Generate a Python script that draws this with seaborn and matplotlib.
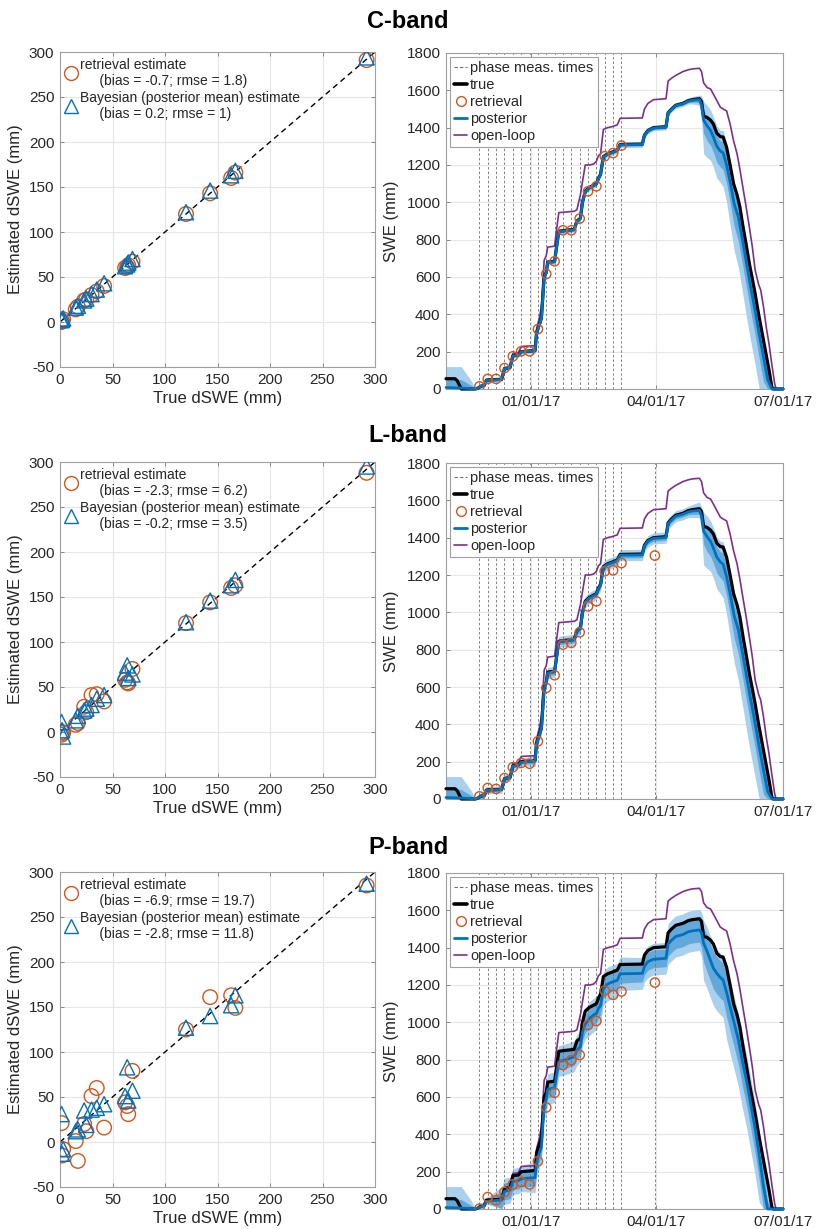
import numpy as np
import pandas as pd
import matplotlib
matplotlib.use("Agg")
import matplotlib.pyplot as plt
import matplotlib.dates as mdates
from matplotlib.lines import Line2D
import seaborn as sns

sns.set_theme(style="whitegrid")
plt.rcParams["font.family"] = ["Liberation Sans", "DejaVu Sans"]
plt.rcParams["axes.unicode_minus"] = False

# ---------------------------------------------------------------- colours
BLUE = "#0072BD"
ORANGE = "#D95319"
PURPLE = "#7E2F8E"
BAND_OUT = "#a9d0ec"
BAND_IN = "#62a8da"
GRID = "#e6e6e6"
EDGE = "#a0a0a0"
TXT = "#262626"
VLINE = "#707070"

season_start = pd.Timestamp("2016-11-01")
band_titles = ["C-band", "L-band", "P-band"]

# ---------------------------------------------------------------- dSWE scatter data (mm)
true_dswe = [1.5, 2, 3, 15, 17, 23, 25, 30, 35, 42, 62, 64, 65, 69, 120, 143, 163, 167, 292]
c_ret_dswe = [0, 1, 3, 14, 17, 24, 25, 30, 34, 40, 60, 61, 63, 67, 120, 143, 160, 166, 291]
c_bayes_dswe = [2, 3, 4, 16, 18, 24, 26, 31, 36, 43, 62, 64, 66, 70, 122, 146, 163, 168, 294]
l_ret_dswe = [-3, 0, -1, 8, 10, 28, 22, 41, 42, 34, 58, 55, 54, 70, 121, 144, 160, 163, 288]
l_bayes_dswe = [11, 2, -5, 13, 18, 24, 26, 30, 37, 41, 66, 74, 60, 64, 122, 146, 163, 169, 295]
p_ret_dswe = [21, -15, -8, 1, -21, 20, 12, 51, 60, 16, 44, 40, 31, 79, 125, 161, 163, 149, 285]
p_bayes_dswe = [31, -13, -8, 12, 14, 35, 19, 36, 38, 42, 51, 83, 46, 57, 127, 140, 152, 163, 287]

ret_stats = ["(bias = -0.7; rmse = 1.8)", "(bias = -2.3; rmse = 6.2)", "(bias = -6.9; rmse = 19.7)"]
bayes_stats = ["(bias = 0.2; rmse = 1)", "(bias = -0.2; rmse = 3.5)", "(bias = -2.8; rmse = 11.8)"]

# ---------------------------------------------------------------- phase measurement times (days after 1 Nov 2016)
c_meas_days = [24, 30, 36, 42, 48, 54, 60, 66, 72, 78, 84, 90, 96, 102, 108, 114, 120, 126]
lp_meas_days = [24, 30, 36, 42, 48, 54, 60, 66, 72, 78, 84, 90, 96, 102, 108, 114, 120, 126, 150]

# retrieved SWE at the measurement times (mm)
c_ret_swe = [14, 54, 54, 112, 175, 202, 202, 321, 616, 684, 850, 850, 913, 1059, 1086, 1247, 1264, 1304]
l_ret_swe = [14, 59, 54, 112, 170, 193, 189, 309, 595, 663, 827, 836, 893, 1032, 1059, 1220, 1225, 1264, 1304]
p_ret_swe = [2, 64, 47, 91, 132, 145, 132, 256, 544, 623, 771, 798, 825, 986, 1007, 1170, 1147, 1165, 1213]

# ---------------------------------------------------------------- true SWE (mm)
true_days = [0, 6.5, 8, 11, 21, 23, 25, 27.5, 29, 40,
             42, 46, 48, 52, 54, 64, 65, 67, 68.5, 70.5,
             72, 73, 78, 79, 81, 86, 92, 94, 96.5, 98,
             100, 103, 106, 108, 109.5, 111, 113, 116, 119, 123,
             125, 141, 142.5, 145, 149, 158, 159.5, 162, 165, 170,
             174, 177, 182, 183.5, 185, 187.5, 190, 192, 194.5, 197,
             199, 201.5, 204, 206.5, 209, 211, 213.5, 215, 218, 220,
             222, 224.5, 226, 228, 230, 232, 234, 235, 242]
true_swe = [55, 55, 45, 0, 0, 5, 15, 20, 48, 52,
            110, 115, 178, 182, 200, 206, 300, 345, 380, 600,
            625, 680, 684, 740, 845, 850, 855, 900, 915, 1000,
            1060, 1080, 1092, 1100, 1130, 1150, 1245, 1260, 1268, 1280,
            1310, 1312, 1360, 1385, 1400, 1405, 1480, 1500, 1520, 1530,
            1545, 1550, 1555, 1540, 1460, 1455, 1440, 1420, 1370, 1352,
            1350, 1295, 1200, 1100, 1040, 977, 860, 798, 665, 590,
            510, 400, 340, 260, 180, 100, 10, 0, 0]

# ---------------------------------------------------------------- open-loop SWE (mm)
ol_days = [0, 6.5, 8, 11, 21, 23, 25, 27.5, 29, 40,
           42, 46, 48, 52, 54, 64, 65, 67, 68.5, 70.5,
           72, 73, 78, 79, 81, 86, 92, 94, 96.5, 98,
           100, 103, 106, 108, 109.5, 111, 113, 116, 119, 123,
           125, 141, 142.5, 145, 149, 158, 159.5, 162, 165, 170,
           174, 177, 182, 183.5, 185, 187.5, 190, 192, 194.5, 197,
           199, 201.5, 204, 206.5, 209, 211, 213.5, 215, 218, 220,
           222, 224.5, 226, 228, 230, 232, 234, 236, 237, 242]
ol_swe = [55, 55, 45, 0, 0, 5, 15, 20, 48, 52,
          112, 117, 190, 195, 228, 232, 320, 380, 440, 690,
          715, 760, 765, 830, 945, 948, 952, 960, 1040, 1110,
          1200, 1200, 1205, 1220, 1250, 1260, 1390, 1400, 1405, 1415,
          1450, 1452, 1500, 1530, 1550, 1555, 1650, 1665, 1680, 1700,
          1710, 1715, 1718, 1700, 1640, 1615, 1607, 1580, 1545, 1510,
          1500, 1490, 1420, 1330, 1260, 1180, 1066, 1000, 860, 760,
          637, 560, 530, 440, 330, 240, 130, 30, 0, 0]

# ---------------------------------------------------------------- posterior (mean and spread below / above it, mm)
post_days = [0, 11, 18.5, 21, 23, 25, 27.5, 29, 40, 42,
             46, 48, 52, 54, 64, 65, 67, 68.5, 70.5, 72,
             73, 78, 79, 81, 86, 92, 94, 96.5, 98, 100,
             103, 106, 108, 109.5, 111, 113, 116, 119, 123, 125,
             141, 142.5, 145, 149, 158, 159.5, 162, 165, 170, 174,
             177, 182, 183.5, 185, 187.5, 190, 192, 194.5, 197, 199,
             201.5, 204, 207, 210, 213, 216, 219, 222, 225, 228,
             231, 234, 237, 242]

c_post_mean = [8, 5, 2, 0, 5, 15, 21, 47, 51, 109,
               114, 177, 181, 199, 205, 298, 343, 378, 598, 622,
               678, 682, 738, 843, 848, 853, 898, 913, 998, 1058,
               1078, 1090, 1098, 1128, 1148, 1243, 1258, 1266, 1278, 1308,
               1310, 1358, 1383, 1398, 1403, 1478, 1498, 1518, 1528, 1542,
               1547, 1550, 1520, 1440, 1410, 1385, 1350, 1300, 1275, 1265,
               1200, 1110, 990, 920, 795, 665, 538, 420, 290, 170,
               50, 0, 0, 0]
c_lo2 = [50, 50, 20, 2, 12, 12, 12, 12, 12, 12,
         12, 12, 12, 12, 15, 15, 15, 15, 15, 15,
         15, 15, 15, 15, 15, 15, 15, 15, 15, 15,
         15, 15, 15, 15, 15, 15, 15, 15, 15, 15,
         15, 15, 15, 15, 15, 15, 15, 15, 15, 15,
         20, 30, 80, 180, 170, 160, 160, 170, 170, 180,
         200, 230, 250, 270, 280, 290, 290, 290, 290, 170,
         50, 0, 0, 0]
c_lo1 = [30, 30, 10, 1, 6, 6, 6, 6, 6, 6,
         6, 6, 6, 6, 8, 8, 8, 8, 8, 8,
         8, 8, 8, 8, 8, 8, 8, 8, 8, 8,
         8, 8, 8, 8, 8, 8, 8, 8, 8, 8,
         8, 8, 8, 8, 8, 8, 8, 8, 8, 8,
         10, 15, 40, 70, 80, 80, 80, 85, 85, 90,
         100, 110, 120, 130, 130, 130, 130, 130, 130, 130,
         50, 0, 0, 0]
c_hi1 = [50, 45, 15, 1, 6, 6, 6, 6, 6, 6,
         6, 6, 6, 6, 8, 8, 8, 8, 8, 8,
         8, 8, 8, 8, 8, 8, 8, 8, 8, 8,
         8, 8, 8, 8, 8, 8, 8, 8, 8, 8,
         8, 8, 8, 8, 8, 8, 8, 8, 8, 8,
         10, 12, 30, 50, 50, 55, 55, 55, 55, 60,
         60, 60, 60, 60, 60, 60, 60, 60, 60, 60,
         50, 10, 0, 0]
c_hi2 = [112, 115, 38, 2, 12, 12, 12, 12, 12, 12,
         12, 12, 12, 12, 15, 15, 15, 15, 15, 15,
         15, 15, 15, 15, 15, 15, 15, 15, 15, 15,
         15, 15, 15, 15, 15, 15, 15, 15, 15, 15,
         15, 15, 15, 15, 15, 15, 15, 15, 15, 15,
         20, 25, 50, 100, 110, 110, 110, 110, 110, 120,
         120, 110, 110, 110, 110, 110, 110, 110, 110, 110,
         100, 25, 0, 0]

l_post_mean = [8, 5, 2, 0, 5, 15, 21, 47, 51, 109,
               114, 176, 183, 197, 204, 296, 340, 375, 595, 620,
               675, 681, 736, 842, 847, 852, 897, 912, 996, 1056,
               1077, 1089, 1097, 1126, 1146, 1241, 1257, 1265, 1277, 1306,
               1308, 1356, 1381, 1396, 1401, 1475, 1495, 1515, 1525, 1538,
               1543, 1546, 1515, 1435, 1405, 1380, 1345, 1295, 1270, 1258,
               1190, 1100, 980, 905, 780, 650, 525, 405, 275, 155,
               40, 0, 0, 0]
l_lo2 = [50, 50, 20, 2, 20, 20, 20, 20, 20, 20,
         20, 20, 20, 20, 30, 30, 30, 30, 30, 30,
         30, 30, 30, 30, 30, 30, 30, 30, 30, 30,
         30, 30, 30, 30, 30, 30, 30, 30, 30, 30,
         30, 30, 30, 30, 30, 30, 30, 30, 30, 30,
         35, 40, 80, 180, 170, 160, 160, 170, 170, 180,
         200, 230, 250, 270, 280, 290, 290, 290, 290, 170,
         40, 0, 0, 0]
l_lo1 = [30, 30, 10, 1, 10, 10, 10, 10, 10, 10,
         10, 10, 10, 10, 15, 15, 15, 15, 15, 15,
         15, 15, 15, 15, 15, 15, 15, 15, 15, 15,
         15, 15, 15, 15, 15, 15, 15, 15, 15, 15,
         15, 15, 15, 15, 15, 15, 15, 15, 15, 15,
         18, 20, 40, 70, 80, 80, 80, 85, 85, 90,
         100, 110, 120, 130, 130, 130, 130, 130, 130, 130,
         40, 0, 0, 0]
l_hi1 = [50, 45, 15, 1, 10, 10, 10, 10, 10, 10,
         10, 10, 10, 10, 15, 15, 15, 15, 15, 15,
         15, 15, 15, 15, 15, 15, 15, 15, 15, 15,
         15, 15, 15, 15, 15, 15, 15, 15, 15, 15,
         15, 15, 15, 15, 15, 15, 15, 15, 15, 15,
         18, 20, 30, 50, 50, 55, 55, 55, 55, 60,
         60, 60, 60, 60, 60, 60, 60, 60, 60, 60,
         50, 10, 0, 0]
l_hi2 = [112, 115, 38, 2, 20, 20, 20, 20, 20, 20,
         20, 20, 20, 20, 30, 30, 30, 30, 30, 30,
         30, 30, 30, 30, 30, 30, 30, 30, 30, 30,
         30, 30, 30, 30, 30, 30, 30, 30, 30, 30,
         30, 30, 30, 30, 30, 30, 30, 30, 30, 30,
         35, 45, 50, 100, 110, 110, 110, 110, 110, 120,
         120, 110, 110, 110, 110, 110, 110, 110, 110, 110,
         100, 25, 0, 0]

p_post_mean = [8, 5, 2, 0, 5, 12, 18, 42, 48, 95,
               100, 148, 152, 163, 168, 250, 300, 330, 560, 590,
               640, 650, 700, 790, 800, 815, 850, 870, 950, 990,
               1020, 1040, 1048, 1075, 1090, 1180, 1205, 1215, 1225, 1260,
               1262, 1300, 1325, 1338, 1343, 1420, 1440, 1460, 1470, 1485,
               1490, 1495, 1480, 1424, 1380, 1330, 1290, 1262, 1240, 1227,
               1160, 1084, 995, 905, 785, 680, 555, 430, 285, 120,
               0, 0, 0, 0]
p_lo2 = [50, 50, 20, 2, 15, 15, 15, 15, 70, 70,
         70, 70, 70, 70, 80, 80, 80, 80, 80, 80,
         80, 80, 80, 80, 80, 80, 80, 80, 80, 80,
         90, 90, 90, 90, 90, 90, 90, 90, 90, 90,
         85, 85, 85, 85, 85, 110, 110, 110, 110, 110,
         110, 110, 130, 200, 200, 200, 200, 200, 200, 200,
         250, 250, 250, 250, 250, 250, 250, 250, 250, 120,
         0, 0, 0, 0]
p_lo1 = [30, 30, 10, 1, 8, 8, 8, 8, 45, 45,
         45, 45, 45, 45, 45, 45, 45, 45, 45, 45,
         45, 45, 45, 45, 45, 45, 45, 45, 45, 45,
         50, 50, 50, 50, 50, 50, 50, 50, 50, 50,
         45, 45, 45, 45, 45, 65, 65, 65, 65, 65,
         65, 65, 80, 100, 110, 110, 110, 110, 110, 110,
         130, 130, 130, 130, 130, 130, 130, 130, 130, 120,
         0, 0, 0, 0]
p_hi1 = [50, 45, 15, 1, 10, 10, 10, 10, 45, 45,
         45, 45, 45, 45, 50, 50, 50, 50, 50, 50,
         50, 50, 50, 50, 50, 50, 50, 50, 50, 50,
         55, 55, 55, 55, 55, 55, 55, 55, 55, 55,
         50, 50, 50, 50, 50, 70, 70, 70, 70, 70,
         70, 70, 75, 80, 90, 90, 90, 90, 90, 90,
         100, 100, 100, 100, 100, 100, 100, 100, 100, 80,
         40, 0, 0, 0]
p_hi2 = [112, 115, 38, 2, 20, 20, 20, 20, 70, 70,
         70, 70, 70, 70, 85, 85, 85, 85, 85, 85,
         85, 85, 85, 85, 85, 85, 85, 85, 85, 85,
         90, 90, 90, 90, 90, 90, 90, 90, 90, 90,
         85, 85, 85, 85, 85, 110, 110, 110, 110, 110,
         110, 110, 110, 120, 130, 130, 130, 130, 130, 130,
         140, 140, 140, 140, 140, 140, 140, 140, 140, 120,
         90, 20, 0, 0]

rows = [
    dict(ret=c_ret_dswe, bay=c_bayes_dswe, meas=c_meas_days, ret_swe=c_ret_swe,
         mean=c_post_mean, spread=(c_lo2, c_lo1, c_hi1, c_hi2)),
    dict(ret=l_ret_dswe, bay=l_bayes_dswe, meas=lp_meas_days, ret_swe=l_ret_swe,
         mean=l_post_mean, spread=(l_lo2, l_lo1, l_hi1, l_hi2)),
    dict(ret=p_ret_dswe, bay=p_bayes_dswe, meas=lp_meas_days, ret_swe=p_ret_swe,
         mean=p_post_mean, spread=(p_lo2, p_lo1, p_hi1, p_hi2)),
]


def to_dates(days):
    return season_start + pd.to_timedelta(np.asarray(days, dtype=float), unit="D")


def style_axes(ax):
    ax.set_facecolor("white")
    ax.grid(True, color=GRID, lw=0.8)
    ax.set_axisbelow(True)
    for s in ax.spines.values():
        s.set_visible(True)
        s.set_color(EDGE)
        s.set_linewidth(0.8)
    ax.tick_params(direction="in", length=3, width=0.6, color="#777777",
                   labelsize=11, labelcolor=TXT, pad=4,
                   bottom=True, left=True, top=True, right=True,
                   labeltop=False, labelright=False)


W, H = 816, 1229
fig = plt.figure(figsize=(W / 100, H / 100), dpi=100)
fig.patch.set_facecolor("white")

title_y = [22, 435, 848]
sc_top = [52, 462, 872]
ts_top = [53, 463, 873]

for i, row in enumerate(rows):
    fig.text(0.5, 1 - title_y[i] / H, band_titles[i], ha="center", va="center",
             fontsize=17, fontweight="bold", color="black")

    # ---------------- scatter of dSWE estimates
    ax = fig.add_axes([60 / W, 1 - (sc_top[i] + 315) / H, 315 / W, 315 / H])
    style_axes(ax)
    ax.plot([0, 300], [0, 300], color="black", lw=1.0, ls=(0, (4, 3)), zorder=2)
    sns.scatterplot(x=true_dswe, y=row["ret"], ax=ax, marker="o", s=110,
                    color=ORANGE, facecolor="none", edgecolor=ORANGE, linewidth=1.0,
                    legend=False, zorder=3)
    sns.scatterplot(x=true_dswe, y=row["bay"], ax=ax, marker="^", s=120,
                    color=BLUE, facecolor="none", edgecolor=BLUE, linewidth=1.0,
                    legend=False, zorder=4)
    ax.set_xlim(0, 300)
    ax.set_ylim(-50, 300)
    ax.set_xticks(range(0, 301, 50))
    ax.set_yticks(range(-50, 301, 50))
    ax.set_xlabel("True dSWE (mm)", fontsize=12, color=TXT, labelpad=3)
    ax.set_ylabel("Estimated dSWE (mm)", fontsize=12, color=TXT, labelpad=4)
    h_ret = Line2D([], [], ls="none", marker="o", ms=10, mfc="none", mec=ORANGE, mew=1.0)
    h_bay = Line2D([], [], ls="none", marker="^", ms=10, mfc="none", mec=BLUE, mew=1.0)
    ax.legend([h_ret, h_bay],
              ["retrieval estimate\n     " + ret_stats[i],
               "Bayesian (posterior mean) estimate\n     " + bayes_stats[i]],
              loc="upper left", bbox_to_anchor=(0.0, 0.995), frameon=False, fontsize=10,
              handlelength=1.0, handletextpad=0.15, borderaxespad=0.1, borderpad=0.2,
              labelspacing=0.2)

    # ---------------- SWE time series
    ax2 = fig.add_axes([446 / W, 1 - (ts_top[i] + 336) / H, 337 / W, 336 / H])
    style_axes(ax2)
    pdates = to_dates(post_days)
    mean = np.asarray(row["mean"], dtype=float)
    lo2, lo1, hi1, hi2 = (np.asarray(a, dtype=float) for a in row["spread"])
    ax2.fill_between(pdates, np.clip(mean - lo2, 0, None), mean + hi2,
                     color=BAND_OUT, lw=0, zorder=1)
    ax2.fill_between(pdates, np.clip(mean - lo1, 0, None), mean + hi1,
                     color=BAND_IN, lw=0, zorder=1.2)
    for d in to_dates(row["meas"]):
        ax2.axvline(d, color=VLINE, lw=0.6, ls=(0, (3, 2.5)), zorder=1.5)

    sns.lineplot(x=to_dates(ol_days), y=ol_swe, ax=ax2, color=PURPLE, lw=1.2,
                 estimator=None, sort=False, clip_on=False, zorder=2.5)
    sns.lineplot(x=to_dates(true_days), y=true_swe, ax=ax2, color="black", lw=2.3,
                 estimator=None, sort=False, clip_on=False, zorder=3)
    sns.lineplot(x=pdates, y=mean, ax=ax2, color=BLUE, lw=2.0,
                 estimator=None, sort=False, clip_on=False, zorder=4)
    sns.scatterplot(x=to_dates(row["meas"]), y=row["ret_swe"], ax=ax2, marker="o", s=45,
                    color=ORANGE, facecolor="none", edgecolor=ORANGE, linewidth=1.0,
                    legend=False, zorder=5)

    ax2.set_xlim(season_start, pd.Timestamp("2017-07-01"))
    ax2.set_ylim(0, 1800)
    ax2.set_yticks(range(0, 1801, 200))
    ax2.set_xticks([pd.Timestamp("2017-01-01"), pd.Timestamp("2017-04-01"),
                    pd.Timestamp("2017-07-01")])
    ax2.xaxis.set_major_formatter(mdates.DateFormatter("%m/%d/%y"))
    ax2.set_xlabel("")
    ax2.set_ylabel("SWE (mm)", fontsize=12, color=TXT, labelpad=5)

    handles = [Line2D([], [], color=VLINE, lw=0.8, ls=(0, (3, 2))),
               Line2D([], [], color="black", lw=2.6),
               Line2D([], [], ls="none", marker="o", ms=7, mfc="none", mec=ORANGE, mew=1.0),
               Line2D([], [], color=BLUE, lw=2.0),
               Line2D([], [], color=PURPLE, lw=1.2)]
    leg = ax2.legend(handles, ["phase meas. times", "true", "retrieval", "posterior", "open-loop"],
                     loc="upper left", fontsize=10.5, frameon=True, fancybox=False,
                     edgecolor=EDGE, framealpha=1, handlelength=0.9, handletextpad=0.2,
                     borderpad=0.3, labelspacing=0.2, borderaxespad=0.25)
    leg.get_frame().set_linewidth(0.8)
    leg.set_zorder(10)

fig.savefig("out.png", dpi=100, facecolor="white")
